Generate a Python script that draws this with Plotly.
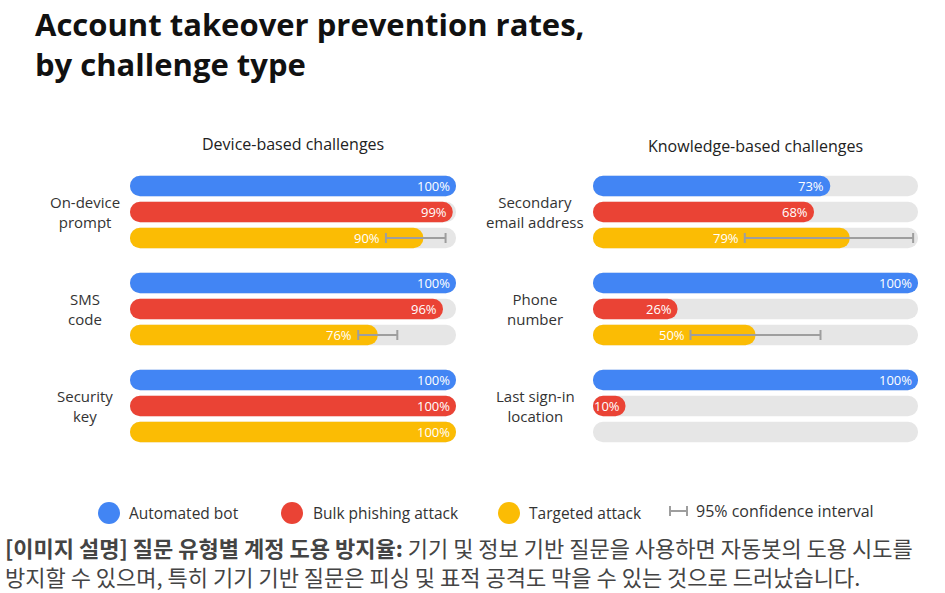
import plotly.graph_objects as go

# ---------------- data ----------------
series_names = ["Automated bot", "Bulk phishing attack", "Targeted attack"]
series_colors = ["#4285F4", "#EA4335", "#FBBC04"]

device_challenges = ["On-device<br>prompt", "SMS<br>code", "Security<br>key"]
device_bot = [100, 100, 100]
device_bulk = [99, 96, 100]
device_targeted = [90, 76, 100]
device_ci_low = [78.5, 70, None]
device_ci_high = [96.8, 82, None]

knowledge_challenges = ["Secondary<br>email address", "Phone<br>number", "Last sign-in<br>location"]
knowledge_bot = [73, 100, 100]
knowledge_bulk = [68, 26, 10]
knowledge_targeted = [79, 50, None]
knowledge_ci_low = [46.7, 30, None]
knowledge_ci_high = [98.5, 70, None]

title_text = "Account takeover prevention rates,<br>by challenge type"
panel_titles = ["Device-based challenges", "Knowledge-based challenges"]
ci_label = "95% confidence interval"
caption_line1 = ("<b>[이미지 설명] 질문 유형별 계정 도용 방지율:</b> "
                 "기기 및 정보 기반 질문을 사용하면 자동봇의 도용 시도를")
caption_line2 = "방지할 수 있으며, 특히 기기 기반 질문은 피싱 및 표적 공격도 막을 수 있는 것으로 드러났습니다."

# ---------------- style ----------------
W, H = 945, 593
TRACK = "#E6E6E6"
CI_COLOR = "#9E9E9E"
TEXT = "#333333"
FONT = "Open Sans"
GROUP_STEP = 3.73
BAR_W = 0.78

def px_x(p):
    return p / W

def px_y(p):
    return 1 - p / H

fig = go.Figure()
annotations = []
shapes = []

panels = [
    ("x", "y", device_challenges, [device_bot, device_bulk, device_targeted], device_ci_low, device_ci_high),
    ("x2", "y2", knowledge_challenges, [knowledge_bot, knowledge_bulk, knowledge_targeted], knowledge_ci_low, knowledge_ci_high),
]


def add_round_bar(values, ys, color, xa, ya):
    fig.add_trace(go.Bar(x=values, y=ys, base=[0] * len(values), orientation="h", width=BAR_W,
                         xaxis=xa, yaxis=ya,
                         marker=dict(color=color, cornerradius="50%", line=dict(width=0)),
                         hoverinfo="skip", showlegend=False))


for xa, ya, cats, series, ci_low, ci_high in panels:
    n_rows = len(cats) * len(series)
    all_y = [g * GROUP_STEP + s for g in range(len(cats)) for s in range(len(series))]
    # background tracks
    add_round_bar([100] * n_rows, all_y, TRACK, xa, ya)
    # coloured bars
    for s, vals in enumerate(series):
        idx = [g for g in range(len(cats)) if vals[g] is not None]
        ys = [g * GROUP_STEP + s for g in idx]
        vs = [vals[g] for g in idx]
        add_round_bar(vs, ys, series_colors[s], xa, ya)
        for v, yv, g in zip(vs, ys, idx):
            lx = v
            if s == 2 and ci_low[g] is not None:
                lx = min(v, ci_low[g])
            annotations.append(dict(x=lx, y=yv, xref=xa, yref=ya, text=f"{v}%",
                                    showarrow=False, xanchor="right", yanchor="middle",
                                    xshift=-4, font=dict(family=FONT, size=13, color="white")))
    # confidence intervals for targeted attack
    tv = series[2]
    ci_idx = [g for g in range(len(cats)) if ci_low[g] is not None]
    fig.add_trace(go.Scatter(
        x=[tv[g] for g in ci_idx],
        y=[g * GROUP_STEP + 2 for g in ci_idx],
        mode="markers", marker=dict(size=1, opacity=0),
        error_x=dict(type="data", symmetric=False,
                     array=[ci_high[g] - tv[g] for g in ci_idx],
                     arrayminus=[tv[g] - ci_low[g] for g in ci_idx],
                     color=CI_COLOR, thickness=2, width=5),
        xaxis=xa, yaxis=ya, hoverinfo="skip", showlegend=False))
    # category labels
    label_x = 85 if xa == "x" else 535
    for g, c in enumerate(cats):
        annotations.append(dict(x=px_x(label_x), y=g * GROUP_STEP + 1, xref="paper", yref=ya,
                                text=c, showarrow=False, xanchor="center", yanchor="middle",
                                align="center", font=dict(family=FONT, size=15, color=TEXT)))

# panel titles
annotations.append(dict(x=px_x(293), y=px_y(144), xref="paper", yref="paper", text=panel_titles[0],
                        showarrow=False, xanchor="center", yanchor="middle",
                        font=dict(family=FONT, size=16, color="#222222")))
annotations.append(dict(x=px_x(755.5), y=px_y(146), xref="paper", yref="paper", text=panel_titles[1],
                        showarrow=False, xanchor="center", yanchor="middle",
                        font=dict(family=FONT, size=16, color="#222222")))

# title
annotations.append(dict(x=px_x(33), y=px_y(1), xref="paper", yref="paper", text=title_text,
                        showarrow=False, xanchor="left", yanchor="top", align="left",
                        font=dict(family=FONT, size=31, color="#111111", weight=700)))

# legend
legend_items = [(109, 127), (292, 311), (509, 527)]
for (cx, tx), name, col in zip(legend_items, series_names, series_colors):
    r = 11
    shapes.append(dict(type="circle", xref="paper", yref="paper",
                       x0=px_x(cx - r), x1=px_x(cx + r), y0=px_y(513 + r), y1=px_y(513 - r),
                       fillcolor=col, line=dict(width=0)))
    annotations.append(dict(x=px_x(tx), y=px_y(513), xref="paper", yref="paper", text=name,
                            showarrow=False, xanchor="left", yanchor="middle",
                            font=dict(family=FONT, size=15.5, color=TEXT)))
shapes.append(dict(type="line", xref="paper", yref="paper", x0=px_x(670), x1=px_x(687),
                   y0=px_y(511), y1=px_y(511), line=dict(color=CI_COLOR, width=2)))
for ex in (670, 687):
    shapes.append(dict(type="line", xref="paper", yref="paper", x0=px_x(ex), x1=px_x(ex),
                       y0=px_y(506), y1=px_y(516), line=dict(color=CI_COLOR, width=2)))
annotations.append(dict(x=px_x(694), y=px_y(511), xref="paper", yref="paper", text=ci_label,
                        showarrow=False, xanchor="left", yanchor="middle",
                        font=dict(family=FONT, size=16, color=TEXT)))

# caption
cap_font = dict(family="Noto Sans CJK KR", size=22, color="#444444")
annotations.append(dict(x=px_x(3), y=px_y(547), xref="paper", yref="paper", text=caption_line1,
                        showarrow=False, xanchor="left", yanchor="middle", font=cap_font))
annotations.append(dict(x=px_x(3), y=px_y(576), xref="paper", yref="paper", text=caption_line2,
                        showarrow=False, xanchor="left", yanchor="middle", font=cap_font))

ax_common = dict(range=[0, 100], showgrid=False, zeroline=False, showticklabels=False,
                 showline=False, ticks="", fixedrange=True)
ydom = [1 - 445 / H, 1 - 173 / H]
y_common = dict(range=[2 * GROUP_STEP + 2.5, -0.5], showgrid=False, zeroline=False,
                showticklabels=False, showline=False, ticks="", fixedrange=True, domain=ydom)

fig.update_layout(
    width=W, height=H, margin=dict(l=0, r=0, t=0, b=0),
    paper_bgcolor="white", plot_bgcolor="white",
    barmode="overlay", showlegend=False,
    xaxis=dict(domain=[130 / W, 456 / W], **ax_common),
    xaxis2=dict(domain=[593 / W, 918 / W], **ax_common),
    yaxis=dict(anchor="x", **y_common),
    yaxis2=dict(anchor="x2", **y_common),
    annotations=annotations, shapes=shapes,
)

fig.write_html("out.html", config={"displayModeBar": False},
               post_script="document.body.style.margin='0';document.body.style.overflow='hidden';")
